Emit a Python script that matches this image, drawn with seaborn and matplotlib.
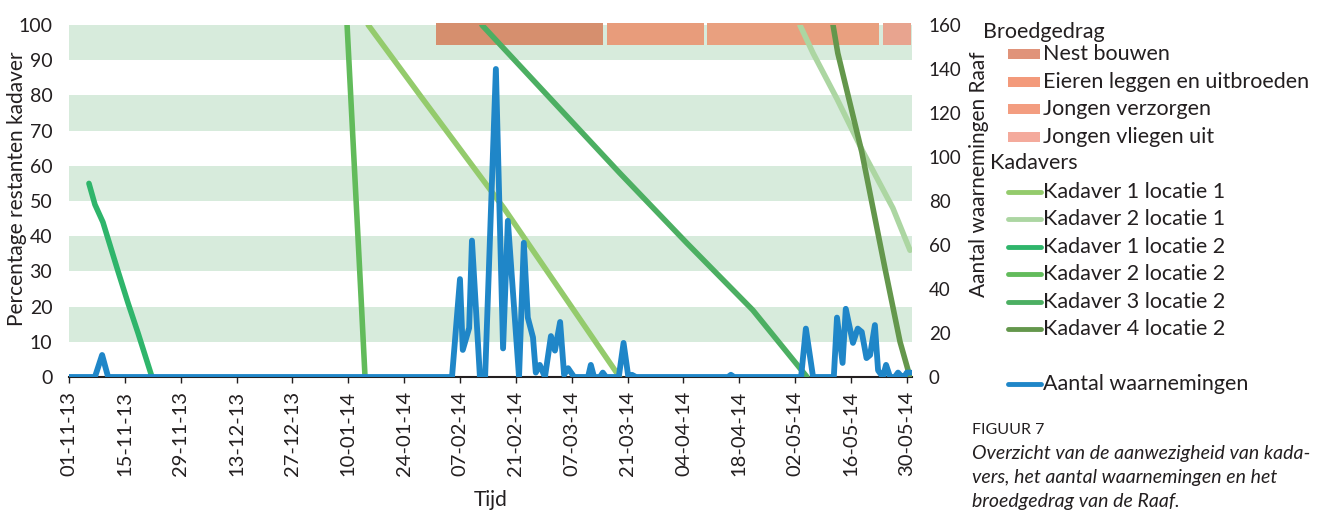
import numpy as np
import pandas as pd
import matplotlib
matplotlib.use("Agg")
import matplotlib.pyplot as plt
import matplotlib.dates as mdates
from matplotlib.lines import Line2D
from matplotlib.patches import Rectangle
import seaborn as sns

# ---------------- data ----------------
START = pd.Timestamp("2013-11-01")

# Kadavers: day offsets since 01-11-13 and percentage remaining
k1l1_days = [75, 88, 109, 138]
k1l1_pct = [100, 80, 48, 0]
k2l1_days = [183.2, 186.5, 192.5, 199.0, 206.5, 210.8]
k2l1_pct = [100, 92, 79, 64, 48, 36]
k1l2_days = [5, 6.5, 8.5, 12.3, 14.8, 17.3, 20.8]
k1l2_pct = [55, 49, 44, 30, 21, 12.5, 0]
k2l2_days = [69.7, 73.1, 74.2]
k2l2_pct = [100, 25, 0]
k3l2_days = [103.5, 138.0, 154.9, 171.4, 185.0]
k3l2_pct = [100, 58, 38, 19, 0]
k4l2_days = [191.5, 192.7, 198.7, 204.5, 208.3, 210.8]
k4l2_pct = [100, 92, 64, 31, 10, 0]

kadaver_names = ["Kadaver 1 locatie 1", "Kadaver 2 locatie 1", "Kadaver 1 locatie 2",
                 "Kadaver 2 locatie 2", "Kadaver 3 locatie 2", "Kadaver 4 locatie 2"]
kadaver_days = [k1l1_days, k2l1_days, k1l2_days, k2l2_days, k3l2_days, k4l2_days]
kadaver_pct = [k1l1_pct, k2l1_pct, k1l2_pct, k2l2_pct, k3l2_pct, k4l2_pct]
kadaver_colors = ["#94cb6c", "#acd6a2", "#2fb56b", "#62bb5b", "#4caf62", "#64974c"]

# Aantal waarnemingen (vertices: day offset, count)
obs_days = [0, 6.5, 8.3, 9.8, 96.0, 98.0, 98.7, 100.3, 101.0, 103.0, 104.3, 107.0, 108.8,
            110.0, 112.8, 114.0, 115.0, 116.3, 117.0, 118.0, 119.3, 120.8, 121.8, 123.1,
            124.1, 125.1, 126.6, 130.1, 130.8, 131.6, 133.1, 133.8, 134.6, 137.8, 139.0,
            140.2, 141.1, 142.1, 165.2, 165.9, 166.7, 183.5, 184.7, 186.5, 191.7, 192.5,
            193.9, 194.7, 196.5, 197.7, 198.7, 199.9, 200.8, 202.0, 202.8, 204.0, 204.8,
            205.8, 207.0, 207.8, 208.8, 209.3, 210.0, 211.0]
obs_count = [0, 0, 10, 0, 0, 44.5, 12.3, 22.3, 62, 0, 0, 140, 13,
             71, 0, 61, 27, 18, 2, 5.5, 0, 18.6, 12, 25,
             1, 4, 0, 0, 5.5, 0, 0, 2, 0, 0, 15.5,
             0, 1, 0, 0, 1, 0, 0, 22, 0, 0, 27,
             6.4, 31, 15.5, 22, 20.5, 8.6, 10, 23.6, 3, 0, 5.5,
             0, 0, 2, 0, 0, 2, 2]

# Broedgedrag periods (day offsets)
brood_names = ["Nest bouwen", "Eieren leggen en uitbroeden", "Jongen verzorgen", "Jongen vliegen uit"]
brood_start = [92.0, 134.8, 159.9, 204.0]
brood_end = [133.8, 159.1, 203.0, 211.0]
brood_colors = ["#d68f6e", "#e89c7b", "#e9a07f", "#e8a48f"]
brood_legend_colors = ["#e0937a", "#f39a7b", "#f39d80", "#f4aa9c"]

band_lows = [10, 30, 50, 70, 90]

# ---------------- style ----------------
sns.set_theme(style="white")
plt.rcParams["font.family"] = ["Lato", "DejaVu Sans"]
TXT = "#231f20"

W, H = 1330, 512
fig = plt.figure(figsize=(W / 100, H / 100), dpi=100)
ax = fig.add_axes([69 / W, 1 - 377 / H, (912 - 69) / W, (377 - 25) / H])
ax2 = ax.twinx()

def d(days):
    return [START + pd.Timedelta(days=float(x)) for x in days]

for lo in band_lows:
    ax.axhspan(lo, lo + 10, color="#d7ebdc", lw=0, zorder=0)

for s, e, c in zip(brood_start, brood_end, brood_colors):
    left = mdates.date2num(START + pd.Timedelta(days=s))
    right = mdates.date2num(START + pd.Timedelta(days=e))
    ax.barh(97.4, right - left, left=left, height=6.2, color=c, lw=0, zorder=1, clip_on=False)

rows = []
for name, dd, pp in zip(kadaver_names, kadaver_days, kadaver_pct):
    for x, y in zip(d(dd), pp):
        rows.append({"date": x, "pct": y, "kadaver": name})
kdf = pd.DataFrame(rows)
sns.lineplot(data=kdf, x="date", y="pct", hue="kadaver", hue_order=kadaver_names,
             palette=dict(zip(kadaver_names, kadaver_colors)), estimator=None, sort=False,
             lw=4, legend=False, ax=ax, zorder=3, solid_capstyle="round")

odf = pd.DataFrame({"date": d(obs_days), "n": obs_count})
sns.lineplot(data=odf, x="date", y="n", color="#1f86c8", lw=4.2, estimator=None, sort=False,
             ax=ax2, zorder=4, solid_joinstyle="round", solid_capstyle="round")

x0 = START
x1 = START + pd.Timedelta(days=211.3)
ax.set_xlim(x0, x1)
ax.set_ylim(0, 100)
ax2.set_ylim(0, 160)

ticks = pd.date_range("2013-11-01", "2014-05-30", freq="14D")
ax.set_xticks(ticks)
ax.set_xticklabels([t.strftime("%d-%m-%y") for t in ticks], rotation=90, fontsize=14.5, color=TXT)
ax.tick_params(axis="x", bottom=True, length=4, width=1, color=TXT, pad=6)
ax.set_yticks(range(0, 101, 10))
ax.set_yticklabels([str(v) for v in range(0, 101, 10)], fontsize=14, color=TXT)
ax.tick_params(axis="y", left=False, pad=6)
ax2.set_yticks(range(0, 161, 20))
ax2.set_yticklabels([str(v) for v in range(0, 161, 20)], fontsize=13.5, color=TXT)
ax2.tick_params(axis="y", right=False, pad=6)

for a in (ax, ax2):
    for sp in ["top", "left", "right", "bottom"]:
        a.spines[sp].set_visible(False)
ax.spines["bottom"].set_visible(True)
ax.spines["bottom"].set_color(TXT)
ax.spines["bottom"].set_linewidth(1.5)
ax.grid(False)
ax2.grid(False)

ax.set_xlabel("Tijd", fontsize=15, color=TXT, labelpad=10)
ax2.set_xlabel("")
ax.set_ylabel("Percentage restanten kadaver", fontsize=15, color=TXT)
ax.yaxis.set_label_coords(-0.05, 0.535)
ax2.set_ylabel("Aantal waarnemingen Raaf", fontsize=15, color=TXT)
ax2.yaxis.set_label_coords(1.068, 0.575)

# ---------------- legend (manual) ----------------
def fx(x):
    return x / W

def fy(y):
    return 1 - y / H

fs = 15.5
fig.text(fx(983), fy(32), "Broedgedrag", fontsize=fs, color=TXT, va="center")
for i, (n, c) in enumerate(zip(brood_names, brood_legend_colors)):
    y = 54 + i * 27.6
    fig.add_artist(Rectangle((fx(1008), fy(y + 5)), fx(1040) - fx(1008), 10 / H,
                             transform=fig.transFigure, color=c, lw=0))
    fig.text(fx(1043), fy(y), n, fontsize=fs, color=TXT, va="center")
fig.text(fx(990), fy(163), "Kadavers", fontsize=fs, color=TXT, va="center")
for i, (n, c) in enumerate(zip(kadaver_names, kadaver_colors)):
    y = 192 + i * 27.4
    fig.add_artist(Line2D([fx(1008), fx(1041)], [fy(y), fy(y)], transform=fig.transFigure,
                          color=c, lw=3.5, solid_capstyle="round"))
    fig.text(fx(1043), fy(y), n, fontsize=fs, color=TXT, va="center")
fig.add_artist(Line2D([fx(1008), fx(1041)], [fy(384), fy(384)], transform=fig.transFigure,
                      color="#1f86c8", lw=3.5, solid_capstyle="round"))
fig.text(fx(1043), fy(384), "Aantal waarnemingen", fontsize=fs, color=TXT, va="center")

# ---------------- caption ----------------
fig.text(fx(972), fy(430), "FIGUUR 7", fontsize=11.5, color=TXT, va="center")
cap = ["Overzicht van de aanwezigheid van kada-",
       "vers, het aantal waarnemingen en het",
       "broedgedrag van de Raaf."]
for i, line in enumerate(cap):
    fig.text(fx(972), fy(453 + i * 24), line, fontsize=14, style="italic", color=TXT, va="center")

fig.savefig("out.png", dpi=100)
